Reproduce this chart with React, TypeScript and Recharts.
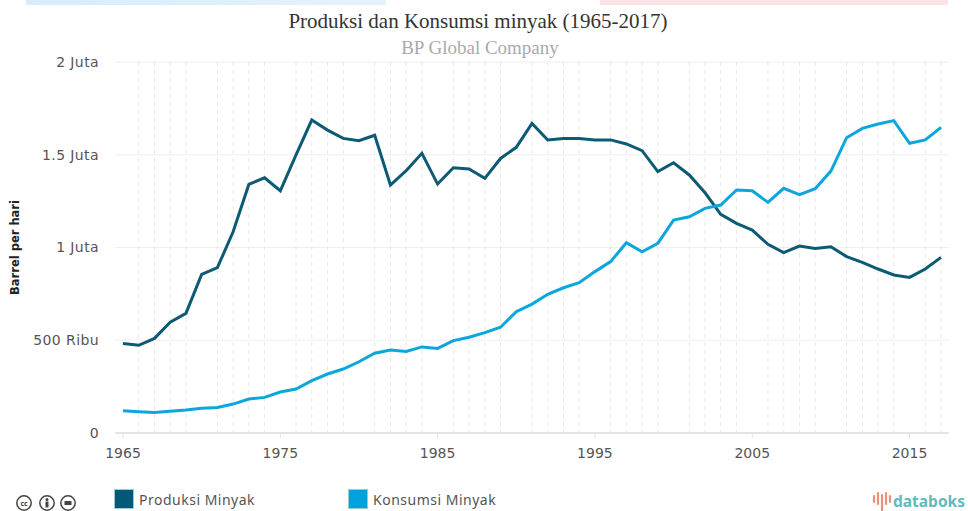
import { LineChart, Line, XAxis, YAxis, CartesianGrid } from 'recharts';

const years = [
  1965, 1966, 1967, 1968, 1969, 1970, 1971, 1972, 1973, 1974, 1975, 1976, 1977, 1978, 1979, 1980, 1981, 1982,
  1983, 1984, 1985, 1986, 1987, 1988, 1989, 1990, 1991, 1992, 1993, 1994, 1995, 1996, 1997, 1998, 1999, 2000,
  2001, 2002, 2003, 2004, 2005, 2006, 2007, 2008, 2009, 2010, 2011, 2012, 2013, 2014, 2015, 2016, 2017,
];

const produksi = [
  483000, 473000, 510000, 597000, 645000, 855000, 891000, 1085000, 1340000, 1376000, 1306000, 1499000, 1687000,
  1633000, 1588000, 1576000, 1605000, 1337000, 1414000, 1508000, 1342000, 1430000, 1423000, 1373000, 1480000,
  1540000, 1669000, 1580000, 1588000, 1588000, 1580000, 1580000, 1558000, 1522000, 1409000, 1457000, 1391000,
  1295000, 1179000, 1130000, 1094000, 1017000, 972000, 1008000, 995000, 1004000, 951000, 920000, 884000, 852000,
  839000, 884000, 947000,
];

const konsumsi = [
  120000, 115000, 111000, 117000, 124000, 133000, 138000, 156000, 183000, 192000, 221000, 237000, 282000, 318000,
  345000, 384000, 430000, 447000, 440000, 464000, 456000, 498000, 516000, 541000, 570000, 654000, 695000, 748000,
  783000, 810000, 870000, 924000, 1026000, 977000, 1022000, 1148000, 1166000, 1211000, 1229000, 1310000, 1306000,
  1243000, 1319000, 1285000, 1317000, 1412000, 1592000, 1642000, 1666000, 1684000, 1562000, 1580000, 1648000,
];

const yTicks = [0, 500000, 1000000, 1500000, 2000000];
const xTicks = [1965, 1975, 1985, 1995, 2005, 2015];
const minorYears = years.filter((y) => y % 5 !== 0);

const data = years.map((year, i) => ({ year, produksi: produksi[i], konsumsi: konsumsi[i] }));

const fontUi = 'Noto Sans, sans-serif';
const fontAxis = 'DejaVu Sans, sans-serif';
const fontSerif = 'Liberation Serif, serif';

function formatY(v: number) {
  if (v === 0) return '0';
  if (v >= 1000000) return `${v / 1000000} Juta`;
  return `${v / 1000} Ribu`;
}

function Swatch({ x, color, label }: { x: number; color: string; label: string }) {
  return (
    <div style={{ position: 'absolute', left: x, top: 489, display: 'flex', alignItems: 'center' }}>
      <div style={{ width: 20, height: 20, background: color, border: '1px solid #9cc', boxSizing: 'border-box' }} />
      <span style={{ marginLeft: 5, fontFamily: fontUi, fontSize: 14, color: '#555', letterSpacing: 0.5 }}>{label}</span>
    </div>
  );
}

export default function App() {
  return (
    <div style={{ position: 'absolute', left: 0, top: 0, width: 968, height: 511, background: '#fff', overflow: 'hidden' }}>
      <div style={{ position: 'absolute', left: 26, top: 0, width: 360, height: 5, background: 'linear-gradient(90deg,#d9ecfb,#e3f3fd)' }} />
      <div style={{ position: 'absolute', left: 600, top: 0, width: 348, height: 5, background: '#fde3e5' }} />
      <LineChart width={968} height={511} data={data} margin={{ top: 62, right: 19, bottom: 0, left: 0 }}>
        <CartesianGrid stroke="#eeeeee" horizontalValues={yTicks} vertical={false} />
        <CartesianGrid stroke="#e8e8e8" verticalValues={minorYears} strokeDasharray="4 4" horizontal={false} />
        <XAxis
          dataKey="year"
          type="category"
          ticks={xTicks}
          interval={0}
          height={78}
          padding={{ left: 8, right: 8 }}
          axisLine={{ stroke: '#e3e3e3', strokeWidth: 2 }}
          tickLine={{ stroke: '#e3e3e3' }}
          tickSize={5}
          tickMargin={10}
          tick={{ fontFamily: fontAxis, fontSize: 14, fill: '#555' }}
        />
        <YAxis
          domain={[0, 2000000]}
          ticks={yTicks}
          width={115}
          axisLine={false}
          tickLine={false}
          tickSize={0}
          tickMargin={16}
          tickFormatter={formatY}
          tick={{ fontFamily: fontAxis, fontSize: 14, fill: '#555', letterSpacing: 0.4 }}
          label={{
            value: 'Barrel per hari',
            angle: -90,
            position: 'insideLeft',
            offset: 15,
            style: { fontFamily: fontAxis, fontSize: 11.5, fontWeight: 700, fill: '#222', textAnchor: 'middle' },
          }}
        />
        <Line dataKey="produksi" stroke="#0c5a74" strokeWidth={3} dot={false} isAnimationActive={false} />
        <Line dataKey="konsumsi" stroke="#0ba6dd" strokeWidth={3} dot={false} isAnimationActive={false} />
        <text x={478} y={28} textAnchor="middle" style={{ fontFamily: fontSerif, fontSize: 21, fill: '#333' }}>
          Produksi dan Konsumsi minyak (1965-2017)
        </text>
        <text x={480} y={54} textAnchor="middle" style={{ fontFamily: fontSerif, fontSize: 19, fill: '#aaa' }}>
          BP Global Company
        </text>
      </LineChart>
      <Swatch x={114} color="#03587a" label="Produksi Minyak" />
      <Swatch x={348} color="#00a2de" label="Konsumsi Minyak" />
      <svg style={{ position: 'absolute', left: 14, top: 494 }} width={66} height={17}>
        {[10, 33, 54].map((cx) => (
          <circle key={cx} cx={cx} cy={9} r={7.2} fill="#fff" stroke="#444" strokeWidth={1.5} />
        ))}
        <text x={10} y={11.5} textAnchor="middle" style={{ fontFamily: fontUi, fontSize: 7, fontWeight: 700, fill: '#444' }}>cc</text>
        <circle cx={33} cy={5.5} r={1.5} fill="#444" />
        <rect x={31.5} y={7.5} width={3} height={6} fill="#444" />
        <rect x={50.5} y={7} width={7} height={4} fill="#444" />
      </svg>
      <svg style={{ position: 'absolute', left: 872, top: 491 }} width={96} height={20}>
        {[2, 6, 10, 14, 18].map((x, i) => (
          <line key={x} x1={x} x2={x} y1={[5, 2, 4, 2, 5][i]} y2={[11, 13, 19, 13, 11][i]} stroke="#ef8f7a" strokeWidth={2.2} strokeLinecap="round" />
        ))}
        <text x={21} y={16} style={{ fontFamily: fontUi, fontSize: 15.5, fontWeight: 700, fill: '#5dbcbc' }}>databoks</text>
      </svg>
    </div>
  );
}
